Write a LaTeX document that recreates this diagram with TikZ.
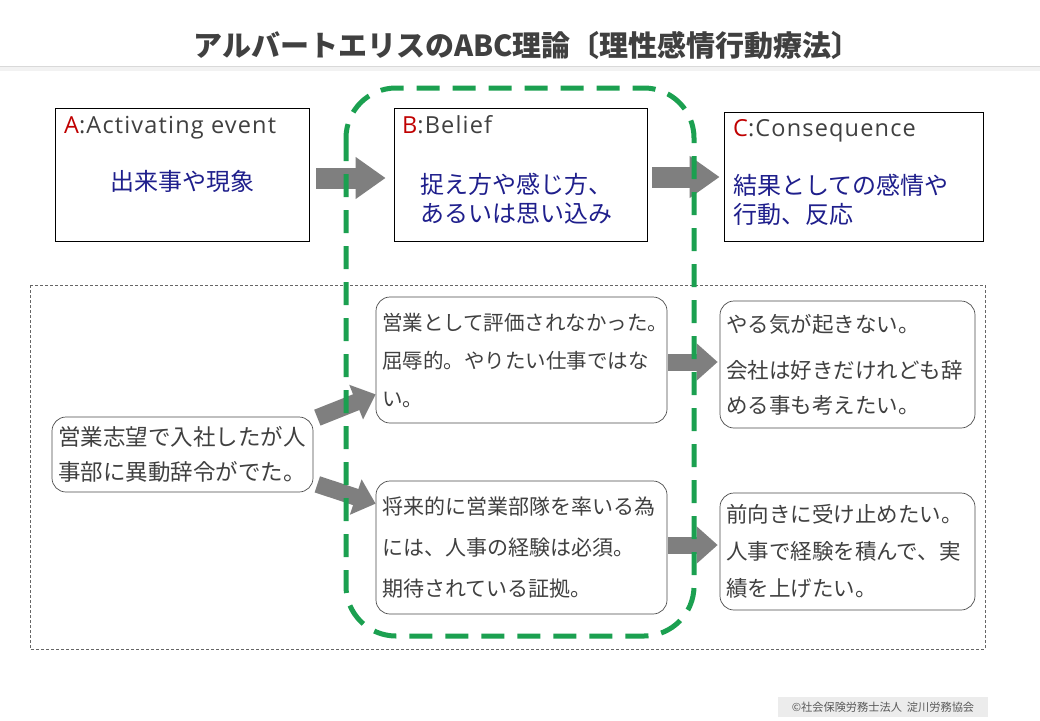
\documentclass[tikz,border=0pt]{standalone}
\usepackage{fontspec}
\usepackage{tikz}
\usetikzlibrary{arrows.meta, positioning}
\setmainfont{Noto Sans CJK JP}
\newfontfamily\latinfont[LetterSpace=5]{Open Sans}
\definecolor{TextGray}{HTML}{404040}
\definecolor{BodyBlue}{HTML}{1F1F8C}
\definecolor{LetterRed}{HTML}{C00000}
\definecolor{ArrowGray}{HTML}{7F7F7F}
\definecolor{ZoneGreen}{HTML}{1BA050}
\tikzstyle{every node}=[font=\fontsize{21}{38}\selectfont, text=TextGray]
\tikzset{BoxStyle/.style = {
						shape          = rectangle,
			      draw           = black,
			      fill           = white,
			      line width     = 0.8pt,
			      inner sep      = 0pt},
			NoteStyle/.style = {
						shape          = rectangle,
			      rounded corners = 14pt,
			      draw           = black!70,
			      fill           = white,
			      line width     = 0.7pt,
			      inner xsep     = 6pt,
			      inner ysep     = 0pt,
			      align          = left},
			HeadStyle/.style = {
			      anchor         = base west,
			      font           = \latinfont\fontsize{23.5}{28}\selectfont,
			      inner sep      = 0pt},
			BlueStyle/.style = {
			      text           = BodyBlue,
			      font           = \fontsize{24}{29}\selectfont,
			      inner sep      = 0pt,
			      align          = left},
			BigArrow/.style = {
			      draw           = ArrowGray,
			      line width     = 21pt,
			      -{Triangle[length=30pt, width=40pt]}},
			SmallArrow/.style = {
			      draw           = ArrowGray,
			      line width     = 17pt,
			      -{Triangle[length=21pt, width=36pt]}}
						}

\begin{document}
\begin{tikzpicture}[x=1pt,y=-1pt]
							\useasboundingbox (0,0) rectangle (1040,720);
							\fill[white] (0,0) rectangle (1040,720);
							
							\draw (527,45) node[font=\fontsize{29}{36}\selectfont\bfseries, text=TextGray] (Title) {アルバートエリスのABC理論〔理性感情行動療法〕};
							\fill[gray!10] (0,67) rectangle (1040,71);
							\draw[gray!30, line width=1pt] (0,66) -- (1040,66);
							
							\draw[black!60, line width=0.6pt, dash pattern=on 3pt off 2pt] (30,285) rectangle (985,649);
							
							\draw (182,174.5) node[BoxStyle, minimum width=254pt, minimum height=133pt] (A) {};
							\draw (520.5,174.5) node[BoxStyle, minimum width=253pt, minimum height=133pt] (B) {};
							\draw (853.5,176.5) node[BoxStyle, minimum width=259pt, minimum height=129pt] (C) {};
							
							\draw (64,133) node[HeadStyle] (AHead) {\textcolor{LetterRed}{A}:Activating event};
							\draw (402,133) node[HeadStyle] (BHead) {\textcolor{LetterRed}{B}:Belief};
							\draw (733,136) node[HeadStyle] (CHead) {\textcolor{LetterRed}{C}:Consequence};
							
							\draw (182,181) node[BlueStyle] (AText) {出来事や現象};
							\draw (420,199) node[BlueStyle, anchor=west] (BText) {捉え方や感じ方、\\あるいは思い込み};
							\draw (733,200) node[BlueStyle, anchor=west] (CText) {結果としての感情や\\行動、反応};
							
							\draw (182.5,454.5) node[NoteStyle, minimum width=261pt, minimum height=75pt, text width=249pt, font=\fontsize{22.5}{35}\selectfont] (Event) {営業志望で入社したが人\\事部に異動辞令がでた。};
							\draw (521.5,360) node[NoteStyle, minimum width=291pt, minimum height=126pt, text width=279pt, font=\fontsize{20.5}{38}\selectfont] (BeliefBad) {営業として評価されなかった。\\屈辱的。やりたい仕事ではな\\い。};
							\draw (521.5,547.5) node[NoteStyle, minimum width=291pt, minimum height=133pt, text width=279pt, font=\fontsize{21}{41}\selectfont] (BeliefGood) {将来的に営業部隊を率いる為\\には、人事の経験は必須。\\期待されている証拠。};
							\draw (847.5,364.5) node[NoteStyle, minimum width=255pt, minimum height=127pt, text width=243pt, font=\fontsize{21.5}{38}\selectfont] (ResultBad) {やる気が起きない。\\[8pt]会社は好きだけれども辞\\[-3pt]める事も考えたい。};
							\draw (847.5,551.5) node[NoteStyle, minimum width=255pt, minimum height=117pt, text width=243pt, font=\fontsize{21.5}{37}\selectfont] (ResultGood) {前向きに受け止めたい。\\人事で経験を積んで、実\\績を上げたい。};
							
							\draw[BigArrow, shorten <=7pt, shorten >=8pt]    ([yshift=-3.5pt]A.east) to[] ([yshift=-3.5pt]B.west);
							\draw[BigArrow, shorten <=5pt, shorten >=4pt]    ([yshift=-2.5pt]B.east) to[] ([yshift=-0.5pt]C.west);
							
							\draw[SmallArrow]    ([shift={(4,1)}]Event.north east) to[] ([shift={(0,-29)}]BeliefBad.south west);
							\draw[SmallArrow]    ([shift={(4,-8)}]Event.south east) to[] ([shift={(0,23)}]BeliefGood.north west);
							\draw[SmallArrow, shorten <=1pt, shorten >=2pt]    ([yshift=-2pt]BeliefBad.east) to[] ([yshift=2.5pt]ResultBad.west);
							\draw[SmallArrow, shorten <=1pt, shorten >=2pt]    ([yshift=2.5pt]BeliefGood.east) to[] ([yshift=6.5pt]ResultGood.west);
							
							\draw[ZoneGreen, line width=5pt, dash pattern=on 23pt off 13pt, rounded corners=50pt] (346,88) rectangle (694,636);
							
							\fill[gray!15] (778,697) rectangle (988,717);
							\draw (883,707) node[font=\fontsize{11.2}{13}\selectfont, text=black!65] (Copyright) {©社会保険労務士法人\ \ 淀川労務協会};

					\end{tikzpicture}
\end{document}
